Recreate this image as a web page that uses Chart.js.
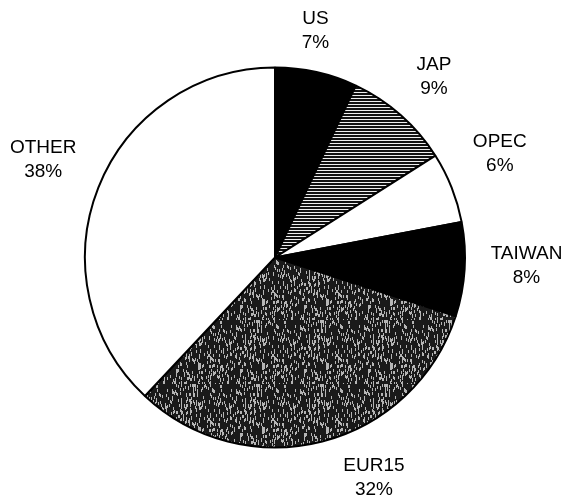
<!DOCTYPE html>
<html>
<head>
<meta charset="utf-8">
<script src="https://cdn.jsdelivr.net/npm/chart.js@4"></script>
<style>
  html, body { margin: 0; padding: 0; background: #fff; }
  #wrap { width: 567px; height: 502px; position: relative; }
</style>
</head>
<body>
<div id="wrap"><canvas id="pieChart"></canvas></div>
<script>
// values
const regions = ["US", "JAP", "OPEC", "TAIWAN", "EUR15", "OTHER"];
const shares = [7, 9, 6, 8, 32, 38];

// small nudges so each label sits where the original put it
const labelNudge = [[-13, 12], [-3, 3], [-3, -14], [7, -7], [38, -17], [-4, -8]];

function hatchPattern() {
  const c = document.createElement("canvas");
  c.width = 6; c.height = 3;
  const g = c.getContext("2d");
  g.fillStyle = "#eee";
  g.fillRect(0, 0, 6, 3);
  g.fillStyle = "#111";
  g.fillRect(0, 0, 6, 2);
  return g.createPattern(c, "repeat");
}

function speckPattern() {
  const n = 64;
  const c = document.createElement("canvas");
  c.width = n; c.height = n;
  const g = c.getContext("2d");
  g.fillStyle = "#1a1a1a";
  g.fillRect(0, 0, n, n);
  g.fillStyle = "#b5b5b5";
  for (let y = 0; y < n; y++) {
    for (let x = 0; x < n; x++) {
      // fixed hash, gives a grainy printed-screen look
      const h = ((x * 374761393) ^ (y * 668265263)) >>> 0;
      const v = ((h ^ (h >>> 13)) * 1274126177) >>> 0;
      if ((v % 100) < 7) g.fillRect(x, y, 1, 3);
    }
  }
  return g.createPattern(c, "repeat");
}

const fills = ["#000", hatchPattern(), "#fff", "#000", speckPattern(), "#fff"];

const outsideLabels = {
  id: "outsideLabels",
  afterDraw(chart) {
    const ctx = chart.ctx;
    const meta = chart.getDatasetMeta(0);
    ctx.save();
    ctx.font = "19px 'Liberation Sans', Arial, sans-serif";
    ctx.fillStyle = "#000";
    ctx.textAlign = "center";
    ctx.textBaseline = "middle";
    meta.data.forEach((arc, i) => {
      const mid = (arc.startAngle + arc.endAngle) / 2;
      const r = arc.outerRadius + 55;
      const x = arc.x + Math.cos(mid) * r + labelNudge[i][0];
      const y = arc.y + Math.sin(mid) * r + labelNudge[i][1];
      ctx.fillText(regions[i], x, y - 12);
      ctx.fillText(shares[i] + "%", x, y + 12);
    });
    ctx.restore();
  }
};

new Chart(document.getElementById("pieChart"), {
  type: "pie",
  data: {
    labels: regions,
    datasets: [{
      data: shares,
      backgroundColor: fills,
      borderColor: "#000",
      borderWidth: 2,
      hoverOffset: 0,
      offset: 0,
      radius: 190
    }]
  },
  options: {
    responsive: true,
    maintainAspectRatio: false,
    animation: false,
    layout: { padding: { left: 60, right: 77, top: 67, bottom: 54 } },
    plugins: {
      legend: { display: false },
      tooltip: { enabled: false }
    }
  },
  plugins: [outsideLabels]
});
</script>
</body>
</html>
